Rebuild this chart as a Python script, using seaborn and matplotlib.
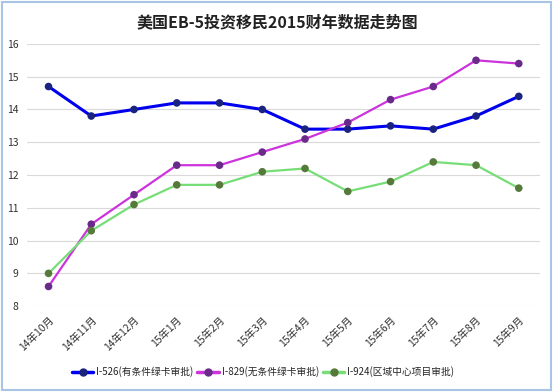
import pandas as pd
import seaborn as sns
import matplotlib.pyplot as plt
from matplotlib.lines import Line2D
from matplotlib.patches import Rectangle

months = ["14年10月", "14年11月", "14年12月", "15年1月", "15年2月", "15年3月",
          "15年4月", "15年5月", "15年6月", "15年7月", "15年8月", "15年9月"]
i526 = [14.7, 13.8, 14.0, 14.2, 14.2, 14.0, 13.4, 13.4, 13.5, 13.4, 13.8, 14.4]
i829 = [8.6, 10.5, 11.4, 12.3, 12.3, 12.7, 13.1, 13.6, 14.3, 14.7, 15.5, 15.4]
i924 = [9.0, 10.3, 11.1, 11.7, 11.7, 12.1, 12.2, 11.5, 11.8, 12.4, 12.3, 11.6]
series = ["I-526(有条件绿卡审批)", "I-829(无条件绿卡审批)", "I-924(区域中心项目审批)"]

line_colors = ["#0000ee", "#cc33dd", "#77dd77"]
marker_colors = ["#1a237e", "#6a2a8a", "#557a3a"]
line_widths = [2.2, 1.6, 1.6]

df = pd.DataFrame({"month": months * 3,
                   "x": list(range(len(months))) * 3,
                   "value": i526 + i829 + i924,
                   "series": [s for s in series for _ in months]})

sns.set_theme(style="white")
plt.rcParams['font.family'] = ['Noto Sans CJK SC', 'DejaVu Sans']

fig = plt.figure(figsize=(5.54, 3.92), dpi=100)
ax = fig.add_axes([0.049, 0.219, 0.926, 0.669])

for s, lc, mc, lw in zip(series, line_colors, marker_colors, line_widths):
    d = df[df["series"] == s]
    sns.lineplot(data=d, x="x", y="value", color=lc, linewidth=lw, ax=ax, legend=False, zorder=2)
    sns.scatterplot(data=d, x="x", y="value", color=mc, s=30, edgecolor="none", ax=ax, legend=False, zorder=3)

ax.set_xlim(-0.5, 11.5)
ax.set_ylim(8, 16)
ax.set_yticks(range(8, 17))
ax.set_xticks(range(len(months)))
ax.set_xticklabels(months, rotation=45, ha="right", rotation_mode="anchor", fontsize=7.5, color="#333333")
ax.tick_params(axis="y", labelsize=7.5, colors="#333333", length=0, pad=6)
ax.tick_params(axis="x", length=0, pad=6)
ax.yaxis.grid(True, color="#d9d9d9", linewidth=0.8)
ax.set_axisbelow(True)
for sp in ax.spines.values():
    sp.set_visible(False)
ax.set_xlabel("")
ax.set_ylabel("")

fig.text(0.5, 0.944, "美国EB-5投资移民2015财年数据走势图", ha="center", va="center",
         fontsize=11.5, fontweight="bold", color="#222222")

handles = [Line2D([0], [0], color=lc, lw=2.5, marker="o", markersize=5,
                  markerfacecolor=mc, markeredgecolor=mc)
           for lc, mc in zip(line_colors, marker_colors)]
fig.legend(handles, series, loc="center", bbox_to_anchor=(0.475, 0.051), ncol=3,
           frameon=False, fontsize=7, handlelength=2.2, handletextpad=0.3,
           columnspacing=0.4)

fig.patches.append(Rectangle((0.004, 0.006), 0.99, 0.988, transform=fig.transFigure,
                             fill=False, edgecolor="#a9c4e4", linewidth=1.5))

fig.savefig("out.png", dpi=100)
